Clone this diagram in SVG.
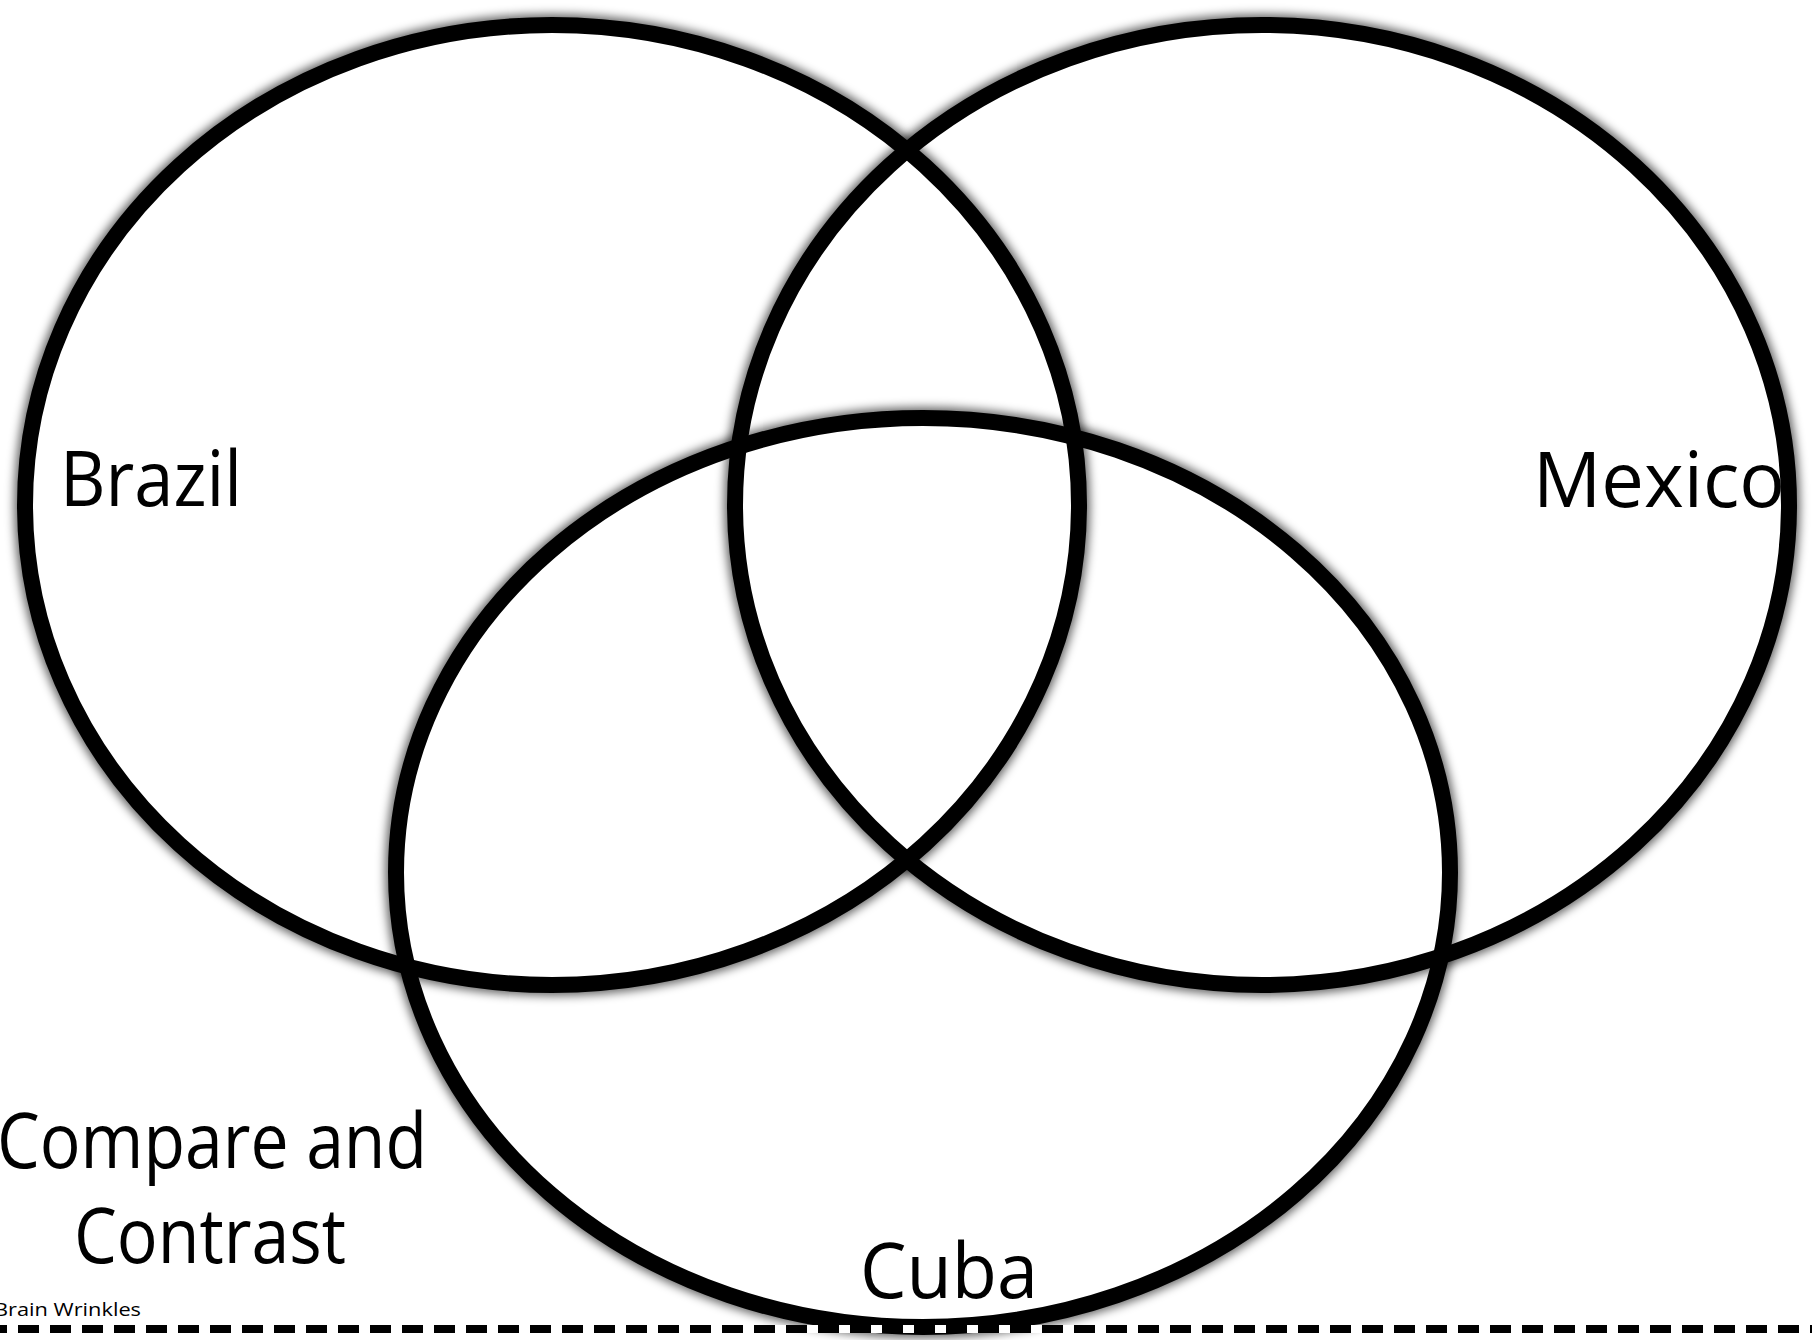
<svg xmlns="http://www.w3.org/2000/svg" width="1812" height="1340" viewBox="0 0 1812 1340">
<style>
.ring{fill:none;stroke:#000;stroke-width:16}
.shadow{fill:none;stroke:#000;stroke-opacity:0.6;stroke-width:22}
.lbl{font-family:"Open Sans","Noto Sans","Liberation Sans",sans-serif;font-size:77px;fill:#000}
.small{font-family:"Open Sans","Noto Sans","Liberation Sans",sans-serif;font-size:18px;fill:#000}
</style>
<defs>
<filter id="blur" x="-10%" y="-10%" width="120%" height="120%"><feGaussianBlur stdDeviation="5"/></filter>
<mask id="outBrazil" maskUnits="userSpaceOnUse" x="0" y="0" width="1812" height="1340"><rect width="1812" height="1340" fill="#fff"/><ellipse cx="552" cy="505" rx="527" ry="480" fill="#000"/></mask>
<mask id="outMexico" maskUnits="userSpaceOnUse" x="0" y="0" width="1812" height="1340"><rect width="1812" height="1340" fill="#fff"/><ellipse cx="1262" cy="505" rx="527" ry="480" fill="#000"/></mask>
<mask id="outCuba" maskUnits="userSpaceOnUse" x="0" y="0" width="1812" height="1340"><rect width="1812" height="1340" fill="#fff"/><ellipse cx="923" cy="872.5" rx="527" ry="454.5" fill="#000"/></mask>
</defs>
<rect width="1812" height="1340" fill="#fff"/>
<g id="shadows">
<ellipse class="shadow" cx="552" cy="505" rx="527" ry="480" filter="url(#blur)" mask="url(#outBrazil)"/>
<ellipse class="shadow" cx="1262" cy="505" rx="527" ry="480" filter="url(#blur)" mask="url(#outMexico)"/>
<ellipse class="shadow" cx="923" cy="872.5" rx="527" ry="454.5" filter="url(#blur)" mask="url(#outCuba)"/>
</g>
<g id="brazil">
<ellipse class="ring" cx="552" cy="505" rx="527" ry="480"/>
<text class="lbl" x="60" y="506" textLength="182" lengthAdjust="spacingAndGlyphs">Brazil</text>
</g>
<g id="mexico">
<ellipse class="ring" cx="1262" cy="505" rx="527" ry="480"/>
<text class="lbl" x="1533" y="507" textLength="252" lengthAdjust="spacingAndGlyphs">Mexico</text>
</g>
<g id="cuba">
<ellipse class="ring" cx="923" cy="872.5" rx="527" ry="454.5"/>
<text class="lbl" x="860" y="1298" textLength="178" lengthAdjust="spacingAndGlyphs">Cuba</text>
</g>
<g id="title">
<text class="lbl" x="212" y="1168" text-anchor="middle" textLength="430" lengthAdjust="spacingAndGlyphs">Compare and</text>
<text class="lbl" x="210" y="1263" text-anchor="middle" textLength="272" lengthAdjust="spacingAndGlyphs">Contrast</text>
</g>
<g id="footer">
<text class="small" x="-6" y="1316" textLength="147" lengthAdjust="spacingAndGlyphs">Brain Wrinkles</text>
<line x1="0" y1="1329" x2="1812" y2="1329" stroke="#fff" stroke-width="8"/>
<line x1="-14" y1="1329" x2="1812" y2="1329" stroke="#000" stroke-width="8" stroke-dasharray="21 11"/>
</g>
</svg>
